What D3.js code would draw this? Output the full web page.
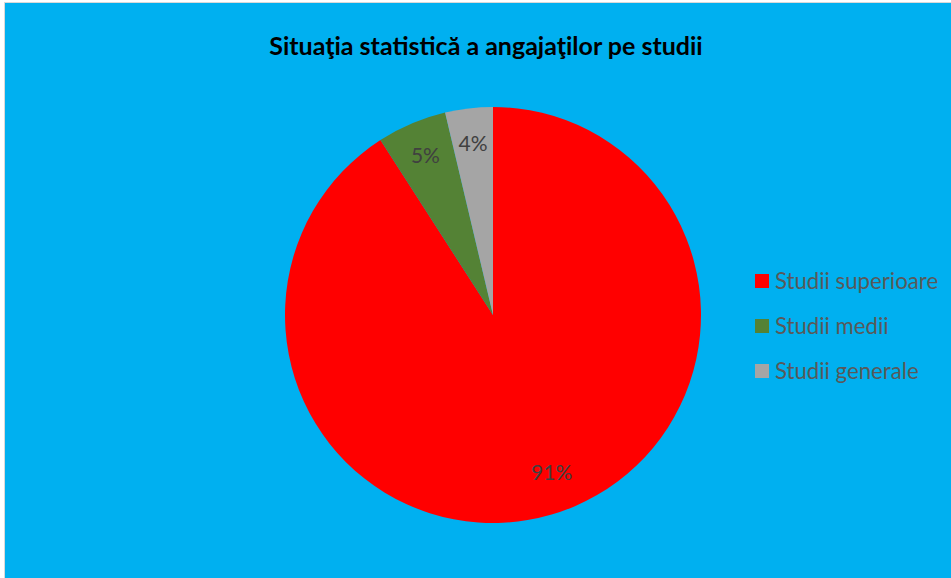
<!DOCTYPE html>
<html><head><meta charset="utf-8">
<script src="https://cdn.jsdelivr.net/npm/d3@7"></script>
<style>body{margin:0;background:#fff;}svg{display:block;}</style>
</head><body>
<svg id="chart" width="951" height="578"></svg>
<script>
const title = "Situaţia statistică a angajaţilor pe studii";
const categories = ["Studii superioare", "Studii medii", "Studii generale"];
const values = [90.9, 5.4, 3.7];
const colors = ["#FF0000", "#548235", "#A5A5A5"];
const labels = ["91%", "5%", "4%"];

const svg = d3.select("#chart");
const W = 951, H = 578;
svg.append("rect").attr("x", 4.5).attr("y", 2.5).attr("width", W - 4).attr("height", H - 2)
  .attr("fill", "#00B0F0").attr("stroke", "#D9D9D9").attr("stroke-width", 1);

svg.append("text").attr("x", 486).attr("y", 55).attr("text-anchor", "middle")
  .attr("font-family", "Lato, 'Open Sans', sans-serif").attr("font-weight", "bold")
  .attr("font-size", 25).attr("fill", "#000").text(title);

const cx = 493, cy = 315, r = 208;
const pie = d3.pie().sort(null).value(d => d)(values);
const arc = d3.arc().innerRadius(0).outerRadius(r);
const labelArc = d3.arc().innerRadius(r * 0.83).outerRadius(r * 0.83);
const g = svg.append("g").attr("transform", `translate(${cx},${cy})`);
g.selectAll("path").data(pie).join("path").attr("d", arc).attr("fill", (d, i) => colors[i]);
g.selectAll("text").data(pie).join("text")
  .attr("transform", d => {
    const [x, yy] = labelArc.centroid(d);
    // large slice: Excel places label nearer the slice's outer edge toward the right
    return d.index === 0 ? `translate(${x + 10},${yy - 8})` : `translate(${x},${yy})`;
  })
  .attr("text-anchor", "middle").attr("dy", "0.35em")
  .attr("font-family", "Lato, 'Open Sans', sans-serif").attr("font-size", 21)
  .attr("fill", "#404040").text((d, i) => labels[i]);

const y = d3.scalePoint().domain(categories).range([281, 371]);
const leg = svg.append("g");
const item = leg.selectAll("g").data(categories).join("g")
  .attr("transform", d => `translate(755,${y(d)})`);
item.append("rect").attr("x", 0).attr("y", -7).attr("width", 14).attr("height", 14)
  .attr("fill", (d, i) => colors[i]);
item.append("text").attr("x", 20).attr("y", 0).attr("dy", "0.35em")
  .attr("font-family", "Lato, 'Open Sans', sans-serif").attr("font-size", 22.2)
  .attr("fill", "#595959").text(d => d);
</script>
</body></html>
